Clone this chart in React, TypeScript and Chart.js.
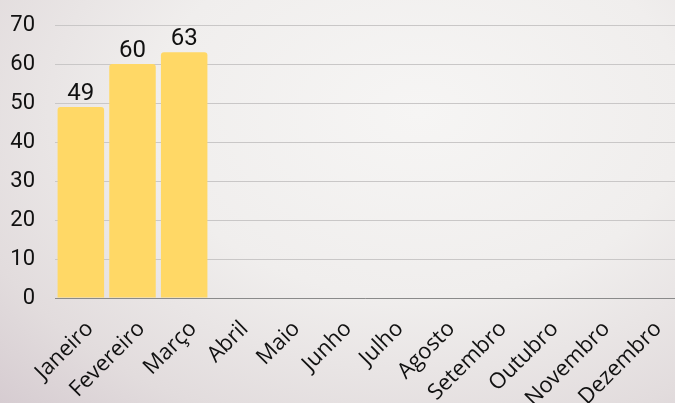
import React, { useEffect, useRef } from "react";
import { Chart, registerables } from "chart.js";

Chart.register(...registerables);

const months = ["Janeiro", "Fevereiro", "Março", "Abril", "Maio", "Junho", "Julho", "Agosto", "Setembro", "Outubro", "Novembro", "Dezembro"];
const values = [49, 60, 63, null, null, null, null, null, null, null, null, null];
const yMax = 70;
const yStep = 10;

const valueLabels = {
  id: "valueLabels",
  afterDatasetsDraw(chart: any) {
    const ctx = chart.ctx;
    const meta = chart.getDatasetMeta(0);
    ctx.save();
    ctx.font = "24px Roboto";
    ctx.fillStyle = "#111";
    ctx.textAlign = "center";
    ctx.textBaseline = "alphabetic";
    meta.data.forEach((bar: any, i: number) => {
      const v = chart.data.datasets[0].data[i];
      if (v == null) return;
      ctx.fillText(String(v), bar.x, bar.y - 7);
    });
    ctx.restore();
  },
};

export default function App() {
  const ref = useRef<HTMLCanvasElement>(null);
  useEffect(() => {
    document.body.style.margin = "0";
    const chart = new Chart(ref.current!, {
      type: "bar",
      data: {
        labels: months,
        datasets: [
          {
            data: values,
            backgroundColor: "#FFD866",
            borderRadius: 3,
            borderSkipped: "bottom",
            barPercentage: 0.9,
            categoryPercentage: 1,
          },
        ],
      },
      options: {
        animation: false,
        responsive: false,
        maintainAspectRatio: false,
        layout: { padding: { top: 25, right: 0, left: 0, bottom: 0 } },
        plugins: { legend: { display: false }, tooltip: { enabled: false } },
        scales: {
          x: {
            grid: { display: false, drawTicks: false },
            border: { display: true, color: "#8a8a8a", width: 1 },
            afterFit: (scale: any) => {
              scale.height = 105;
              scale.paddingRight = 0;
              scale.paddingLeft = 0;
            },
            ticks: {
              color: "#111",
              font: { family: "'Open Sans'", size: 22 },
              maxRotation: 45,
              minRotation: 45,
              padding: 18,
              labelOffset: 9,
              autoSkip: false,
            },
          },
          y: {
            min: 0,
            max: yMax,
            grid: { color: "#c9c7c7", lineWidth: 1, drawTicks: false },
            border: { display: false },
            afterFit: (scale: any) => {
              scale.paddingTop = 0;
              scale.paddingBottom = 0;
              scale.width = 55;
            },
            ticks: {
              stepSize: yStep,
              color: "#111",
              font: { family: "Roboto", size: 22 },
              padding: 20,
            },
          },
        },
      },
      plugins: [valueLabels],
    });
    return () => chart.destroy();
  }, []);
  return (
    <div
      style={{
        width: 675,
        height: 403,
        background: "radial-gradient(ellipse at 62% 28%, #f6f5f4 0%, #f0eeed 45%, #e2dcdd 80%, #d6ccd1 100%)",
      }}
    >
      <canvas ref={ref} width={675} height={403} style={{ display: "block" }} />
    </div>
  );
}
